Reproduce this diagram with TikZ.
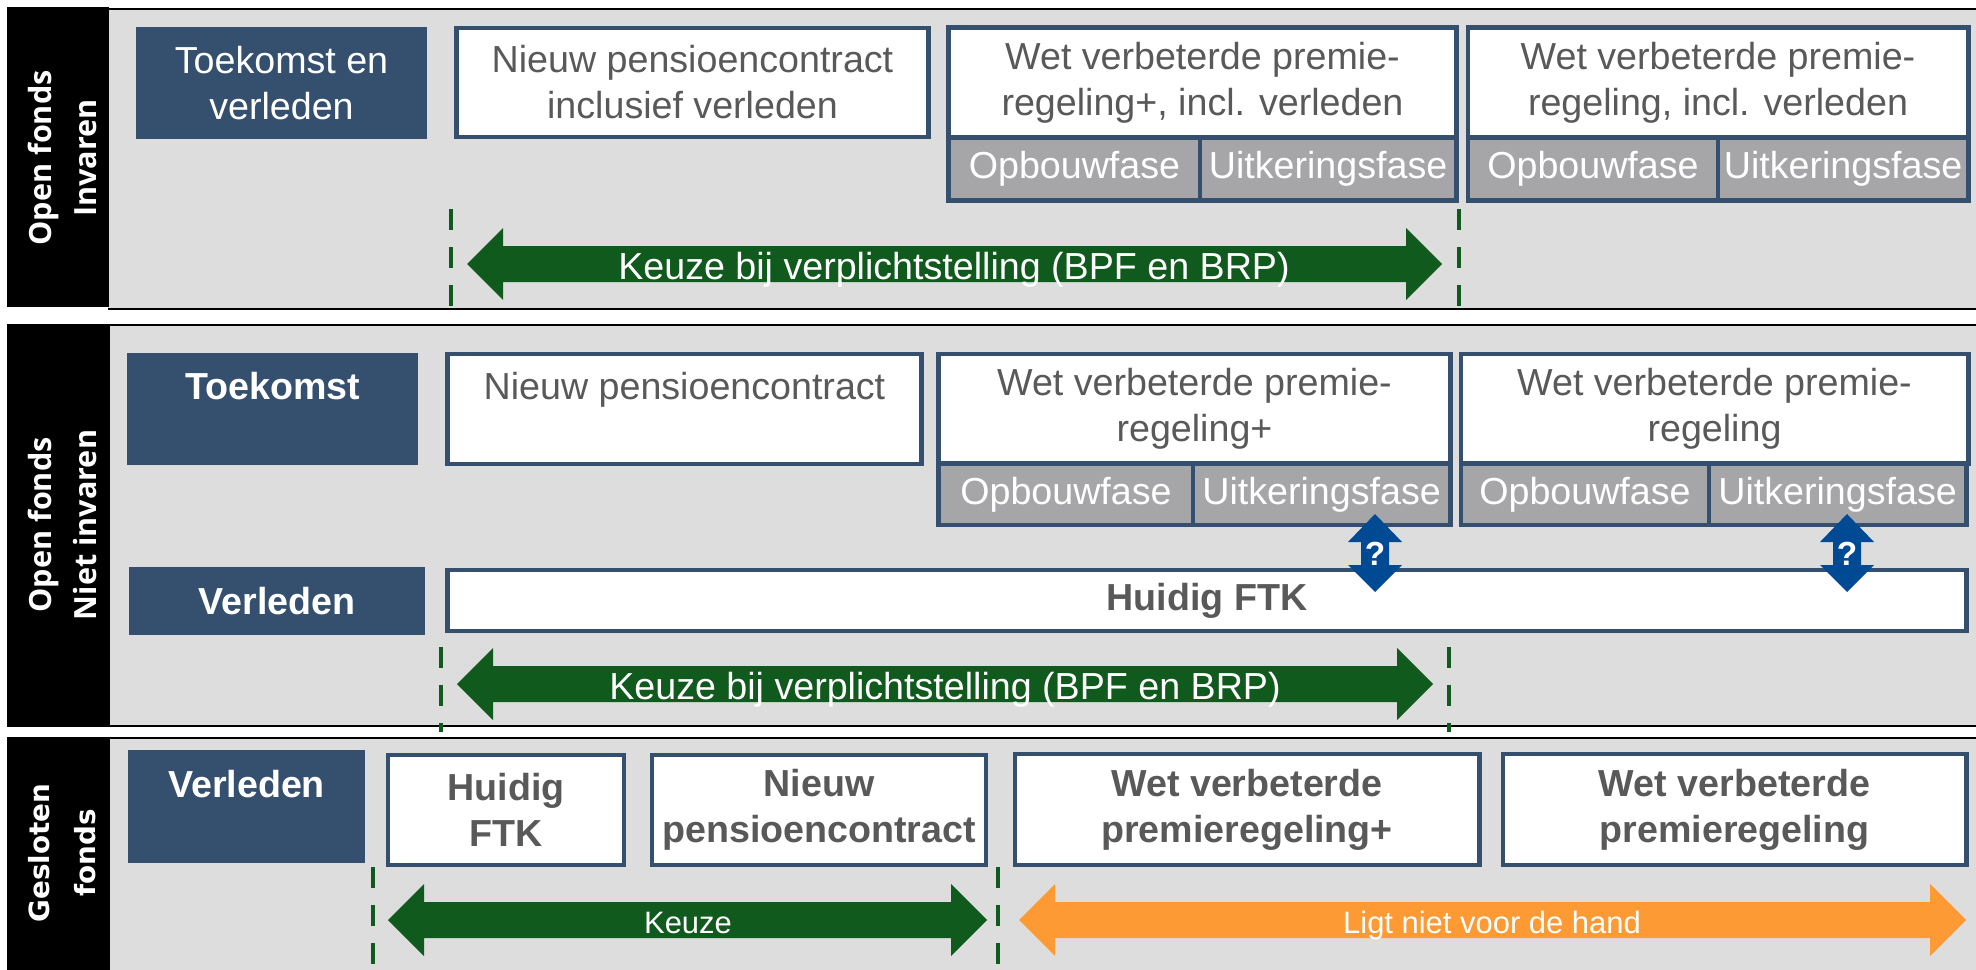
\documentclass[tikz,border=0pt]{standalone}
\usepackage{fontspec}
\setmainfont{Liberation Sans}
\newfontfamily\zijfont{Open Sans}
\newfontfamily\geslotenfont{DejaVu Sans}
\usetikzlibrary{positioning}

\definecolor{paneelgrijs}{RGB}{221,221,221}
\definecolor{donkerblauw}{RGB}{53,80,111}
\definecolor{tekstgrijs}{RGB}{89,89,89}
\definecolor{fasegrijs}{RGB}{166,166,169}
\definecolor{keuzegroen}{RGB}{17,90,30}
\definecolor{oranje}{RGB}{253,154,51}
\definecolor{vraagblauw}{RGB}{0,74,147}

% brede pijl met twee punten: kleur, linkerpunt, rechterpunt, hoogte
\newcommand{\dubbelpijl}[4]{%
  \fill[#1] (#2,#4) -- (#2+36,#4-36) -- (#2+36,#4-18) -- (#3-36,#4-18)
    -- (#3-36,#4-36) -- (#3,#4) -- (#3-36,#4+36) -- (#3-36,#4+18)
    -- (#2+36,#4+18) -- (#2+36,#4+36) -- cycle;}
% verticale pijl met vraagteken: naam, x
\newcommand{\vraagpijl}[2]{%
  \fill[vraagblauw] (#2,514) -- (#2+27,542) -- (#2+14,542) -- (#2+14,565)
    -- (#2+27,565) -- (#2,592) -- (#2-27,565) -- (#2-14,565)
    -- (#2-14,542) -- (#2-27,542) -- cycle;
  \node[vraag] (#1) at (#2,554) {?};}

\tikzset{
  basis/.style={inner sep=0pt, outer sep=0pt, align=center,
    font=\fontsize{10.7}{13.1}\selectfont},
  vet/.style={font=\bfseries\fontsize{10.7}{13.1}\selectfont},
  kop/.style={basis, fill=donkerblauw, text=white},
  blok/.style={basis, draw=donkerblauw, line width=1.35pt, fill=white, text=tekstgrijs},
  fase/.style={blok, fill=fasegrijs, text=white},
  rand/.style={black, line width=0.6pt},
  grens/.style={keuzegroen, line width=1.4pt, dash pattern=on 6pt off 4.8pt},
  pijltekst/.style={anchor=base, text=white, inner sep=0pt,
    font=\fontsize{10.7}{13.1}\selectfont},
  kleintekst/.style={pijltekst, font=\fontsize{8.8}{10}\selectfont},
  zijtekst/.style={rotate=90, text=white, align=center, inner sep=0pt,
    font=\zijfont\bfseries\fontsize{8.7}{12.8}\selectfont},
  vraag/.style={text=white, inner sep=0pt, font=\bfseries\fontsize{9.5}{11}\selectfont},
}

\begin{document}
\begin{tikzpicture}[x=0.01cm, y=-0.01cm]
  \useasboundingbox (0,0) rectangle (1976,970);

  % open fonds, invaren
  \fill[paneelgrijs] (108,9) rectangle (1976,309);
  \draw[rand] (108,9) -- (1976,9) (108,309) -- (1976,309);
  \fill[black] (7,7) rectangle (109,307);
  \node[zijtekst] (zijA) at (62,158) {Open fonds\\Invaren};
  \node[kop, minimum width=2.91cm, minimum height=1.12cm] (toekomstA) at (281.5,83) {Toekomst en\\verleden};
  \node[blok, minimum width=4.71cm, minimum height=1.09cm] (nieuwA) at (692.5,82.5) {Nieuw pensioencontract\\inclusief verleden};
  \node[blok, minimum width=5.07cm, minimum height=1.10cm] (wetplusA) at (1202.5,82.5) {Wet verbeterde premie-\\regeling+, incl. verleden};
  \node[fase, anchor=north west, minimum width=2.51cm, minimum height=0.63cm] (opbA) at (wetplusA.south west) {Opbouwfase};
  \node[fase, anchor=north west, minimum width=2.56cm, minimum height=0.63cm] (uitA) at (opbA.north east) {Uitkeringsfase};
  \node[blok, minimum width=5.00cm, minimum height=1.10cm] (wetA) at (1718,82.5) {Wet verbeterde premie-\\regeling, incl. verleden};
  \node[fase, anchor=north west, minimum width=2.50cm, minimum height=0.63cm] (opbA2) at (wetA.south west) {Opbouwfase};
  \node[fase, anchor=north west, minimum width=2.50cm, minimum height=0.63cm] (uitA2) at (opbA2.north east) {Uitkeringsfase};
  \draw[grens] (451,209) -- (451,307);
  \draw[grens] (1459,209) -- (1459,307);
  \dubbelpijl{keuzegroen}{467}{1442}{264}
  \node[pijltekst] (keuzeA) at (954,279) {Keuze bij verplichtstelling (BPF en BRP)};

  % open fonds, niet invaren
  \fill[paneelgrijs] (110,325) rectangle (1976,726);
  \draw[rand] (110,325) -- (1976,325) (110,726) -- (1976,726);
  \fill[black] (7,324) rectangle (110,727);
  \node[zijtekst] (zijB) at (62,525) {Open fonds\\Niet invaren};
  \node[kop, vet, minimum width=2.91cm, minimum height=1.12cm] (toekomstB) at (272.5,409) {Toekomst\\\mbox{}};
  \node[kop, vet, minimum width=2.96cm, minimum height=0.68cm] (verledenB) at (277,601) {Verleden};
  \node[blok, minimum width=4.73cm, minimum height=1.10cm] (nieuwB) at (684.5,409) {Nieuw pensioencontract\\\mbox{}};
  \node[blok, minimum width=5.11cm, minimum height=1.095cm] (wetplusB) at (1194.5,408.75) {Wet verbeterde premie-\\regeling+};
  \node[fase, anchor=north west, minimum width=2.54cm, minimum height=0.615cm] (opbB) at (wetplusB.south west) {Opbouwfase};
  \node[fase, anchor=north west, minimum width=2.57cm, minimum height=0.615cm] (uitB) at (opbB.north east) {Uitkeringsfase};
  \node[blok, minimum width=5.07cm, minimum height=1.095cm] (wetB) at (1714.5,408.75) {Wet verbeterde premie-\\regeling};
  \node[fase, anchor=north west, minimum width=2.48cm, minimum height=0.615cm] (opbB2) at (wetB.south west) {Opbouwfase};
  \node[fase, anchor=north west, minimum width=2.57cm, minimum height=0.615cm] (uitB2) at (opbB2.north east) {Uitkeringsfase};
  \node[blok, vet, minimum width=15.18cm, minimum height=0.61cm] (ftkB) at (1207,600.5) {Huidig FTK};
  \vraagpijl{vraagB}{1375}
  \vraagpijl{vraagB2}{1847}
  \draw[grens] (441,647) -- (441,732);
  \draw[grens] (1449,647) -- (1449,732);
  \dubbelpijl{keuzegroen}{457}{1433}{684}
  \node[pijltekst] (keuzeB) at (945,699) {Keuze bij verplichtstelling (BPF en BRP)};

  % gesloten fonds
  \fill[paneelgrijs] (110,738) rectangle (1976,970);
  \draw[rand] (110,738) -- (1976,738);
  \fill[black] (7,737) rectangle (110,970);
  \node[zijtekst, font=\geslotenfont\bfseries\fontsize{7.9}{13.1}\selectfont] (zijC) at (62,853) {Gesloten\\fonds};
  \node[kop, vet, minimum width=2.37cm, minimum height=1.13cm] (verledenC) at (246.5,806.5) {Verleden\\\mbox{}};
  \node[blok, vet, minimum width=2.36cm, minimum height=1.10cm] (ftkC) at (506,810) {Huidig\\FTK};
  \node[blok, vet, minimum width=3.34cm, minimum height=1.10cm] (nieuwC) at (819,810) {Nieuw\\pensioencontract};
  \node[blok, vet, minimum width=4.64cm, minimum height=1.11cm] (wetplusC) at (1247,809.5) {Wet verbeterde\\premieregeling+};
  \node[blok, vet, minimum width=4.63cm, minimum height=1.11cm] (wetC) at (1734.5,809.5) {Wet verbeterde\\premieregeling};
  \draw[grens] (373,867) -- (373,970);
  \draw[grens] (998,867) -- (998,970);
  \dubbelpijl{keuzegroen}{388}{987}{920}
  \dubbelpijl{oranje}{1019}{1966}{920}
  \node[kleintekst] (keuzeC) at (688,933) {Keuze};
  \node[kleintekst] (handC) at (1492,933) {Ligt niet voor de hand};
\end{tikzpicture}
\end{document}
